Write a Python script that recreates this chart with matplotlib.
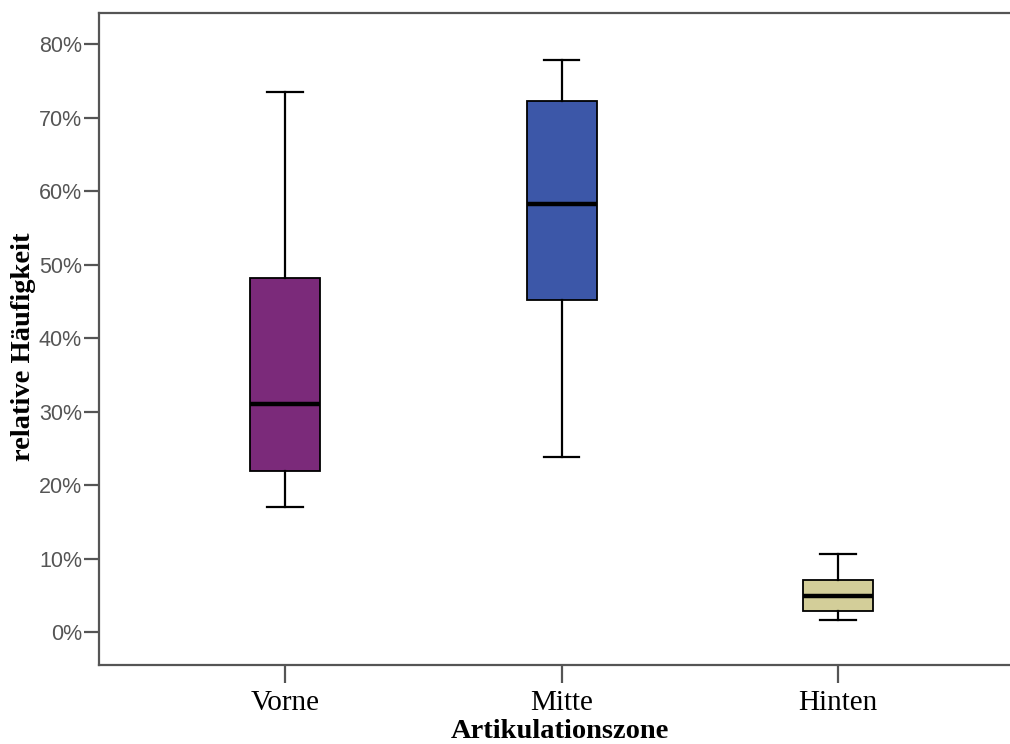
import matplotlib
matplotlib.use("Agg")
import matplotlib.pyplot as plt
from matplotlib.ticker import PercentFormatter

# Box plot data (relative frequency)
categories = ["Vorne", "Mitte", "Hinten"]
whisker_low = [0.170, 0.239, 0.017]
q1 = [0.220, 0.452, 0.029]
median = [0.311, 0.583, 0.050]
q3 = [0.482, 0.723, 0.071]
whisker_high = [0.735, 0.779, 0.106]
colors = ["#7B2A7A", "#3C57A8", "#D3CE99"]

stats = []
for i, name in enumerate(categories):
    stats.append({"label": name, "whislo": whisker_low[i], "q1": q1[i],
                  "med": median[i], "q3": q3[i], "whishi": whisker_high[i],
                  "fliers": []})

plt.rcParams['font.family'] = ['Liberation Serif', 'DejaVu Serif']

fig = plt.figure(figsize=(10.1, 7.44), dpi=100)
ax = fig.add_axes([0.0977, 0.1062, 0.9023, 0.8763])

bp = ax.bxp(stats, positions=range(len(categories)), widths=0.253,
            capwidths=0.127, patch_artist=True, showfliers=False,
            boxprops=dict(edgecolor="black", linewidth=1.3),
            whiskerprops=dict(color="black", linewidth=1.6),
            capprops=dict(color="black", linewidth=1.6),
            medianprops=dict(color="black", linewidth=3.2))
for patch, c in zip(bp["boxes"], colors):
    patch.set_facecolor(c)

ax.set_xlim(-0.674, 2.622)
ax.set_ylim(-0.0445, 0.8426)
ax.set_yticks([i / 10 for i in range(9)])
ax.yaxis.set_major_formatter(PercentFormatter(1.0, decimals=0))

ax.spines["right"].set_visible(False)
for s in ["left", "bottom", "top"]:
    ax.spines[s].set_color("#555555")
    ax.spines[s].set_linewidth(1.6)

ax.tick_params(axis="y", direction="out", length=11, width=1.6, color="#555555",
               labelsize=15.5, labelcolor="#555555", pad=1)
ax.tick_params(axis="x", direction="out", length=13, width=1.6, color="#555555",
               labelsize=21, labelcolor="black", pad=5)
for lbl in ax.get_yticklabels():
    lbl.set_family(["Liberation Sans", "DejaVu Sans"])

ax.set_xlabel("Artikulationszone", fontsize=20.5, fontweight="bold")
ax.set_ylabel("relative Häufigkeit", fontsize=20.5, fontweight="bold")
ax.xaxis.set_label_coords(0.506, -0.083)
ax.yaxis.set_label_coords(-0.069, 0.488)

fig.savefig("out.png", dpi=100)
